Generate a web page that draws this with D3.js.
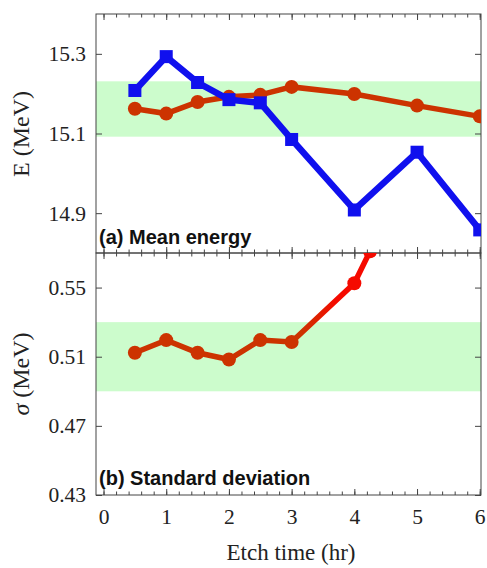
<!DOCTYPE html>
<html>
<head>
<meta charset="utf-8">
<script src="https://cdn.jsdelivr.net/npm/d3@7"></script>
<style>
  body { margin: 0; background: #fff; }
  svg { display: block; }
  .tick text { font-family: "Liberation Serif", "Times New Roman", serif; font-size: 21.5px; fill: #222; }
  .domain { display: none; }
  .tick line { stroke: #444; stroke-width: 1; }
</style>
</head>
<body>
<svg id="chart"></svg>
<script>
// etch times (hr)
var etchTimes = [0.5, 1, 1.5, 2, 2.5, 3, 4, 5, 6];
// mean energy, two series (MeV)
var energyBlue = [15.208, 15.293, 15.228, 15.185, 15.177, 15.085, 14.908, 15.053, 14.858];
var energyRed  = [15.162, 15.150, 15.179, 15.192, 15.197, 15.217, 15.199, 15.170, 15.143];
// standard deviation (MeV); last point runs off the top of the panel
var sigmaTimes = [0.5, 1, 1.5, 2, 2.5, 3, 4, 4.25];
var sigmaRed   = [0.5123, 0.5196, 0.5123, 0.5084, 0.5196, 0.5185, 0.5525, 0.571];
// shaded bands
var energyBand = [15.092, 15.231];
var sigmaBand  = [0.49, 0.53];
// ticks
var xTicks = [0, 1, 2, 3, 4, 5, 6];
var energyTicks = [14.9, 15.1, 15.3];
var sigmaTicks = [0.43, 0.47, 0.51, 0.55];

var width = 487, height = 568;
var pLeft = 96, pRight = 481, pTop = 14, pMid = 253, pBottom = 495;

var svg = d3.select("#chart")
    .attr("width", width)
    .attr("height", height);

var x = d3.scaleLinear().domain([-0.12, 6.02]).range([pLeft, pRight]);
var yE = d3.scaleLinear().domain([14.8, 15.4]).range([pMid, pTop]);
var yS = d3.scaleLinear().domain([0.43, 0.57]).range([pBottom, pMid]);

var minorX = d3.range(0, 30.5, 1).map(function(d) { return d / 5; });

var defs = svg.append("defs");
defs.append("clipPath").attr("id", "clipA")
  .append("rect").attr("x", pLeft).attr("y", pTop).attr("width", pRight - pLeft).attr("height", pMid - pTop);
defs.append("clipPath").attr("id", "clipB")
  .append("rect").attr("x", pLeft).attr("y", pMid).attr("width", pRight - pLeft).attr("height", pBottom - pMid);

// colour turns from orange-red to red after 3 hr
var grad = defs.append("linearGradient").attr("id", "sigGrad")
    .attr("gradientUnits", "userSpaceOnUse")
    .attr("x1", x(3.15)).attr("x2", x(3.7)).attr("y1", 0).attr("y2", 0);
grad.append("stop").attr("offset", 0).attr("stop-color", "#cc3300");
grad.append("stop").attr("offset", 1).attr("stop-color", "#f50a00");

// bands
svg.append("rect")
    .attr("x", pLeft).attr("width", pRight - pLeft)
    .attr("y", yE(energyBand[1])).attr("height", yE(energyBand[0]) - yE(energyBand[1]))
    .attr("fill", "#ccfccc");
svg.append("rect")
    .attr("x", pLeft).attr("width", pRight - pLeft)
    .attr("y", yS(sigmaBand[1])).attr("height", yS(sigmaBand[0]) - yS(sigmaBand[1]))
    .attr("fill", "#ccfccc");

// x ticks on every horizontal frame edge, pointing inward
function xTickRow(y, dir, labels) {
  var gen = dir === "up" ? d3.axisBottom : d3.axisTop;
  svg.append("g").attr("transform", "translate(0," + y + ")")
      .call(gen(x).tickValues(minorX).tickSize(-3.5).tickFormat(""));
  svg.append("g").attr("transform", "translate(0," + y + ")")
      .call(gen(x).tickValues(xTicks).tickSize(-6).tickPadding(14)
        .tickFormat(labels ? d3.format("d") : ""));
}
xTickRow(pTop, "down", false);
xTickRow(pMid, "up", false);
xTickRow(pMid, "down", false);
xTickRow(pBottom, "up", true);

function yTicks(scale, vals, fmt) {
  svg.append("g").attr("transform", "translate(" + pLeft + ",0)")
      .call(d3.axisLeft(scale).tickValues(vals).tickSize(-6).tickPadding(10).tickFormat(d3.format(fmt)));
  svg.append("g").attr("transform", "translate(" + pRight + ",0)")
      .call(d3.axisRight(scale).tickValues(vals).tickSize(-6).tickFormat(""));
}
yTicks(yE, energyTicks, ".1f");
yTicks(yS, sigmaTicks, ".2f");

// frames
svg.append("rect").attr("x", pLeft).attr("y", pTop).attr("width", pRight - pLeft).attr("height", pMid - pTop)
    .attr("fill", "none").attr("stroke", "#444");
svg.append("rect").attr("x", pLeft).attr("y", pMid).attr("width", pRight - pLeft).attr("height", pBottom - pMid)
    .attr("fill", "none").attr("stroke", "#444");

// panel (a)
var gA = svg.append("g").attr("clip-path", "url(#clipA)");
var lineE = d3.line().x(function(d) { return x(d[0]); }).y(function(d) { return yE(d[1]); });
var red = etchTimes.map(function(t, i) { return [t, energyRed[i]]; });
var blue = etchTimes.map(function(t, i) { return [t, energyBlue[i]]; });

gA.append("path").datum(red).attr("d", lineE)
    .attr("fill", "none").attr("stroke", "#cc3300").attr("stroke-width", 5.5);
gA.selectAll("circle.red").data(red).enter().append("circle")
    .attr("cx", function(d) { return x(d[0]); })
    .attr("cy", function(d) { return yE(d[1]); })
    .attr("r", 7).attr("fill", "#cc3300");

gA.append("path").datum(blue).attr("d", lineE)
    .attr("fill", "none").attr("stroke", "#1010ee").attr("stroke-width", 6.5);
gA.selectAll("rect.blue").data(blue).enter().append("rect")
    .attr("x", function(d) { return x(d[0]) - 6.5; })
    .attr("y", function(d) { return yE(d[1]) - 6.5; })
    .attr("width", 13).attr("height", 13).attr("fill", "#1010ee");

// panel (b)
var gB = svg.append("g").attr("clip-path", "url(#clipB)");
var lineS = d3.line().x(function(d) { return x(d[0]); }).y(function(d) { return yS(d[1]); });
var sig = sigmaTimes.map(function(t, i) { return [t, sigmaRed[i]]; });
gB.append("path").datum(sig).attr("d", lineS)
    .attr("fill", "none").attr("stroke", "url(#sigGrad)").attr("stroke-width", 5.5);
gB.selectAll("circle").data(sig).enter().append("circle")
    .attr("cx", function(d) { return x(d[0]); })
    .attr("cy", function(d) { return yS(d[1]); })
    .attr("r", 7).attr("fill", "url(#sigGrad)");

// panel labels
svg.append("text").attr("x", 99).attr("y", 244)
    .style("font-family", "'Liberation Sans', Arial, sans-serif").style("font-weight", "bold")
    .style("font-size", "20px").attr("fill", "#111")
    .text("(a) Mean energy");
svg.append("text").attr("x", 99).attr("y", 485)
    .style("font-family", "'Liberation Sans', Arial, sans-serif").style("font-weight", "bold")
    .style("font-size", "20px").attr("fill", "#111")
    .text("(b) Standard deviation");

// axis titles
var serif = "'Liberation Serif', 'Times New Roman', serif";
svg.append("text").attr("transform", "translate(29,134) rotate(-90)")
    .attr("text-anchor", "middle").style("font-family", serif).style("font-size", "24px").attr("fill", "#222")
    .text("E (MeV)");
var sT = svg.append("text").attr("transform", "translate(29,374) rotate(-90)")
    .attr("text-anchor", "middle").style("font-family", serif).style("font-size", "24px").attr("fill", "#222");
sT.append("tspan").style("font-style", "italic").text("σ");
sT.append("tspan").text(" (MeV)");
svg.append("text").attr("x", 291).attr("y", 560)
    .attr("text-anchor", "middle").style("font-family", serif).style("font-size", "23px").attr("fill", "#222")
    .text("Etch time (hr)");
</script>
</body>
</html>
